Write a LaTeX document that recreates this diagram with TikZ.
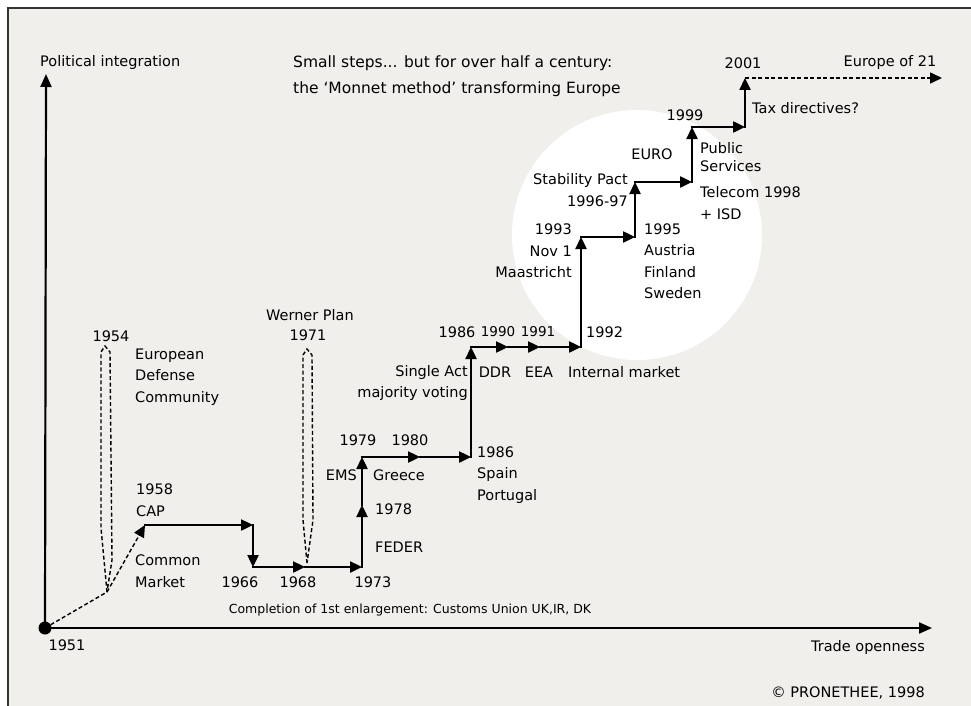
\documentclass[tikz,border=0pt]{standalone}
\usepackage{fontspec}
\setmainfont{DejaVu Sans}
\usetikzlibrary{arrows.meta}

\definecolor{paper}{RGB}{241,239,236}

\tikzset{
  stair/.style={line width=2.4pt, line cap=rect, -{Triangle[length=12pt,width=11pt]}},
  axis/.style={line width=2.2pt, -{Triangle[length=13pt,width=11pt]}},
  faildash/.style={line width=1.4pt, dash pattern=on 4pt off 2.5pt},
  lbl/.style={font=\fontsize{14.5}{21.5}\selectfont, inner sep=0pt, align=left},
  smalllbl/.style={font=\fontsize{12.5}{14}\selectfont, inner sep=0pt}
}

\begin{document}
\begin{tikzpicture}[x=1pt,y=-1pt]
  \useasboundingbox (0,0) rectangle (971,706);
  \fill[white] (0,0) rectangle (971,706);
  \fill[paper] (8,8) rectangle (971,706);
  \draw[line width=2pt, black!80] (8,706) -- (8,8) -- (971,8);
  \fill[white] (637,235) circle (125pt);

  % points of the staircase
  \coordinate (o) at (45,628);
  \coordinate (ytop) at (46,74);
  \coordinate (xend) at (932,628);
  \coordinate (k54) at (107,592);
  \coordinate (c58) at (145,525);
  \coordinate (c65) at (253,525);
  \coordinate (c66) at (253,567);
  \coordinate (c68) at (305,567);
  \coordinate (c73) at (362,567);
  \coordinate (c78) at (362,505);
  \coordinate (c79) at (362,457);
  \coordinate (c80) at (420,457);
  \coordinate (c85) at (471,457);
  \coordinate (c86) at (471,347);
  \coordinate (c90) at (508,347);
  \coordinate (c91) at (540,347);
  \coordinate (c92) at (581,347);
  \coordinate (c93) at (581,237);
  \coordinate (c95) at (635,237);
  \coordinate (c96) at (635,182);
  \coordinate (c98) at (692,182);
  \coordinate (c99) at (692,127);
  \coordinate (ctax) at (745,127);
  \coordinate (c01) at (745,78);
  \coordinate (e21) at (942,78);

  \draw[axis] (o) -- (ytop);
  \draw[axis] (o) -- (xend);
  \fill (o) circle (6.5pt);

  % failed steps
  \draw[faildash] (k54) -- (101,528) -- (101,352) -- (105,346) -- (110,352) -- (112,560) -- cycle;
  \draw[faildash] (307,563) -- (303,520) -- (303,355) -- (307,349) -- (312,355) -- (313,520) -- cycle;

  \draw[faildash] (o) -- (k54);
  \draw[faildash, -{Triangle[length=12pt,width=11pt]}] (k54) -- (c58);
  \foreach \a/\b in {c58/c65, c65/c66, c66/c68, c68/c73, c73/c78, c78/c79,
                     c79/c80, c80/c85, c85/c86, c86/c90, c90/c91, c91/c92,
                     c92/c93, c93/c95, c95/c96, c96/c98, c98/c99, c99/ctax, ctax/c01}
    \draw[stair] (\a) -- (\b);
  \draw[faildash, line width=1.6pt, -{Triangle[length=12pt,width=11pt]}] (c01) -- (e21);

  % labels
  \node[lbl, anchor=west] (polint) at (40,63) {Political integration};
  \node[lbl, anchor=west, font=\fontsize{15.5}{26}\selectfont] (title) at (293,76)
    {Small steps... but for over half a century:\\the `Monnet method' transforming Europe};
  \node[lbl] (t51) at (67,645) {1951};
  \node[lbl, anchor=east] (trade) at (925,647) {Trade openness};
  \node[lbl, anchor=east] (copyr) at (925,693) {© PRONETHEE, 1998};
  \node[lbl] (t54) at (111,336) {1954};
  \node[lbl, anchor=west] (edc) at (135,377) {European\\Defense\\Community};
  \node[lbl] (werner) at (310,315) {Werner Plan};
  \node[lbl] (t71) at (308,335) {1971};
  \node[lbl, anchor=west] (cap) at (136,500) {1958\\CAP};
  \node[lbl, anchor=west] (cm) at (135,571) {Common\\Market};
  \node[lbl] (t66) at (240,582) {1966};
  \node[lbl] (t68) at (298,582) {1968};
  \node[lbl] (t73) at (373,582) {1973};
  \node[smalllbl] (compl) at (410,610) {Completion of 1st enlargement: Customs Union UK,IR, DK};
  \node[lbl, anchor=west] (feder) at (375,547) {FEDER};
  \node[lbl, anchor=west] (t78) at (375,509) {1978};
  \node[lbl, anchor=east] (ems) at (357,475) {EMS};
  \node[lbl, anchor=west] (greece) at (373,475) {Greece};
  \node[lbl] (t79) at (358,440) {1979};
  \node[lbl] (t80) at (410,440) {1980};
  \node[lbl, anchor=west] (spain) at (477,475) {1986\\Spain\\Portugal};
  \node[lbl, anchor=east, align=right] (single) at (468,383) {Single Act\\majority voting};
  \node[lbl] (t86) at (457,332) {1986};
  \node[lbl, font=\fontsize{13.5}{14}\selectfont] (t90) at (498,332) {1990};
  \node[lbl, font=\fontsize{13.5}{14}\selectfont] (t91) at (538,332) {1991};
  \node[lbl, anchor=west] (t92) at (586,332) {1992};
  \node[lbl] (ddr) at (495,372) {DDR};
  \node[lbl] (eea) at (539,372) {EEA};
  \node[lbl, anchor=west] (intm) at (568,372) {Internal market};
  \node[lbl, anchor=east, align=right] (maas) at (572,251) {1993\\Nov 1\\Maastricht};
  \node[lbl, anchor=west] (efta) at (644,261) {1995\\Austria\\Finland\\Sweden};
  \node[lbl, anchor=east, align=right] (stab) at (628,190) {Stability Pact\\1996-97};
  \node[lbl] (euro) at (652,154) {EURO};
  \node[lbl, anchor=west] (pubsv) at (700,157) {Public\\[-3pt]Services};
  \node[lbl, anchor=west] (telecom) at (700,203) {Telecom 1998\\+ ISD};
  \node[lbl] (t99) at (685,115) {1999};
  \node[lbl, anchor=west] (tax) at (752,108) {Tax directives?};
  \node[lbl] (t01) at (743,63) {2001};
  \node[lbl] (eu21) at (890,63) {Europe of 21};
\end{tikzpicture}
\end{document}
